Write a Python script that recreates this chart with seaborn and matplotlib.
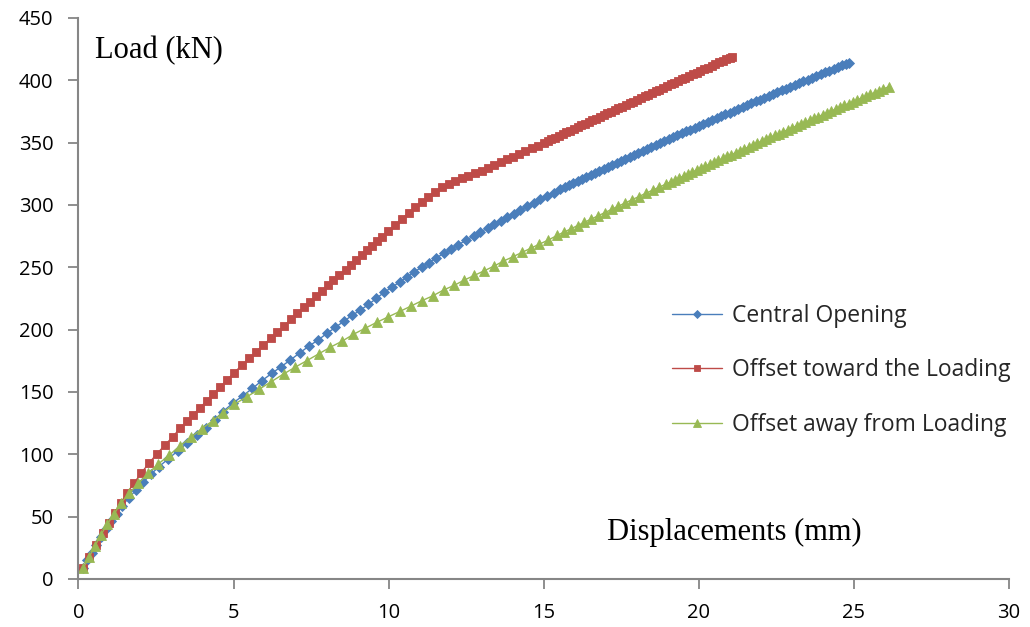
import matplotlib
matplotlib.use("Agg")
import matplotlib.pyplot as plt
import seaborn as sns
import pandas as pd

# Central Opening (blue diamonds)
central_x = [0.15, 0.29, 0.44, 0.58, 0.73, 0.88, 1.05, 1.24, 1.41, 1.62, 1.86, 2.09, 2.33, 2.60, 2.90,
             3.20, 3.50, 3.81, 4.11, 4.40, 4.65, 4.97, 5.30, 5.61, 5.91, 6.23, 6.53, 6.83, 7.14, 7.43,
             7.72, 8.01, 8.28, 8.55, 8.82, 9.09, 9.35, 9.60, 9.85, 10.10, 10.35, 10.59, 10.82, 11.06,
             11.30, 11.53, 11.77, 12.01, 12.25, 12.49, 12.74, 12.95, 13.19, 13.40, 13.62, 13.83, 14.03,
             14.24, 14.46, 14.67, 14.89, 15.10, 15.32, 15.53, 15.67, 15.81, 15.95, 16.09, 16.23, 16.37,
             16.51, 16.65, 16.79, 16.93, 17.07, 17.21, 17.35, 17.49, 17.63, 17.77, 17.91, 18.05, 18.19,
             18.33, 18.47, 18.61, 18.75, 18.89, 19.03, 19.17, 19.31, 19.45, 19.59, 19.73, 19.87, 20.01,
             20.15, 20.29, 20.43, 20.57, 20.71, 20.85, 20.99, 21.13, 21.27, 21.41, 21.55, 21.69, 21.83,
             21.97, 22.11, 22.25, 22.39, 22.53, 22.67, 22.81, 22.95, 23.09, 23.23, 23.37, 23.51, 23.65,
             23.79, 23.93, 24.07, 24.21, 24.35, 24.49, 24.63, 24.73, 24.83]
central_y = [8.6, 14.9, 21.2, 27.4, 33.7, 40.0, 46.3, 52.5, 58.8, 65.1, 71.4, 77.6, 83.9, 90.2, 96.5,
             102.7, 109.0, 115.3, 121.5, 127.8, 134.1, 140.9, 147.0, 152.9, 159.0, 164.9, 170.3, 175.6,
             181.5, 186.8, 191.6, 197.0, 201.8, 206.6, 211.4, 215.7, 220.2, 225.0, 229.8, 234.0, 238.0,
             242.2, 246.2, 250.0, 253.7, 257.5, 261.1, 264.6, 268.1, 271.7, 275.1, 278.2, 281.5, 284.5,
             287.4, 290.3, 293.1, 295.9, 298.8, 301.7, 304.6, 307.2, 309.9, 312.5, 314.2, 315.9, 317.5,
             319.2, 320.9, 322.5, 324.2, 325.8, 327.5, 329.1, 330.8, 332.4, 334.0, 335.6, 337.2, 338.8,
             340.4, 342.0, 343.6, 345.1, 346.7, 348.2, 349.8, 351.3, 352.9, 354.4, 355.9, 357.5, 359.0,
             360.5, 362.0, 363.6, 365.1, 366.6, 368.1, 369.6, 371.1, 372.6, 374.1, 375.6, 377.1, 378.6,
             380.1, 381.6, 383.1, 384.6, 386.0, 387.5, 389.0, 390.5, 391.9, 393.4, 394.8, 396.3, 397.7,
             399.2, 400.6, 402.1, 403.5, 405.0, 406.4, 407.8, 409.3, 410.7, 412.1, 413.2, 414.2]

# Offset toward the Loading (red squares)
toward_x = [0.15, 0.35, 0.56, 0.78, 0.99, 1.17, 1.36, 1.57, 1.80, 2.03, 2.27, 2.52, 2.78, 3.04, 3.28,
            3.49, 3.70, 3.92, 4.13, 4.34, 4.56, 4.78, 5.02, 5.26, 5.50, 5.73, 5.96, 6.20, 6.41, 6.63,
            6.85, 7.06, 7.27, 7.47, 7.66, 7.85, 8.03, 8.22, 8.41, 8.62, 8.78, 8.95, 9.14, 9.30, 9.46,
            9.62, 9.78, 9.99, 10.21, 10.43, 10.64, 10.85, 11.07, 11.28, 11.50, 11.72, 11.93, 12.15,
            12.36, 12.57, 12.79, 13.01, 13.21, 13.41, 13.61, 13.81, 14.01, 14.21, 14.41, 14.61, 14.81,
            15.01, 15.13, 15.25, 15.37, 15.49, 15.61, 15.73, 15.85, 15.97, 16.09, 16.21, 16.33, 16.45,
            16.57, 16.69, 16.81, 16.93, 17.05, 17.17, 17.29, 17.41, 17.53, 17.65, 17.77, 17.89, 18.01,
            18.13, 18.25, 18.37, 18.49, 18.61, 18.73, 18.85, 18.97, 19.09, 19.21, 19.33, 19.45, 19.57,
            19.69, 19.81, 19.93, 20.05, 20.17, 20.29, 20.41, 20.53, 20.65, 20.77, 20.89, 21.01, 21.07]
toward_y = [9.0, 17.9, 27.3, 36.9, 44.9, 52.9, 60.9, 69.2, 77.2, 85.2, 92.8, 100.2, 107.2, 114.1, 121.0,
            126.5, 131.9, 137.4, 142.8, 148.3, 153.7, 159.6, 165.4, 171.4, 177.0, 182.3, 187.9, 193.0,
            198.1, 203.1, 208.3, 213.1, 217.9, 222.4, 226.9, 231.2, 235.8, 239.8, 243.8, 247.8, 251.8,
            255.8, 259.8, 263.8, 267.4, 271.0, 274.4, 279.0, 283.9, 289.0, 293.7, 298.4, 302.6, 306.6,
            310.6, 314.1, 316.7, 319.1, 321.3, 323.3, 325.4, 327.5, 329.7, 332.0, 334.2, 336.5, 338.7,
            341.0, 343.2, 345.5, 347.7, 349.9, 351.3, 352.7, 354.1, 355.5, 356.9, 358.2, 359.6, 361.0,
            362.4, 363.8, 365.2, 366.5, 367.9, 369.3, 370.7, 372.1, 373.4, 374.8, 376.2, 377.6, 378.9,
            380.3, 381.7, 383.0, 384.4, 385.8, 387.1, 388.5, 389.9, 391.2, 392.6, 394.0, 395.3, 396.7,
            398.0, 399.4, 400.8, 402.1, 403.5, 404.8, 406.2, 407.5, 408.9, 410.2, 411.6, 412.9, 414.3,
            415.6, 417.0, 418.3, 419.0]

# Offset away from Loading (green triangles)
away_x = [0.15, 0.35, 0.53, 0.72, 0.93, 1.15, 1.36, 1.64, 1.93, 2.25, 2.57, 2.93, 3.27, 3.62, 3.97,
          4.33, 4.65, 5.02, 5.43, 5.82, 6.21, 6.61, 6.98, 7.36, 7.74, 8.11, 8.49, 8.86, 9.24, 9.62,
          9.99, 10.36, 10.72, 11.07, 11.43, 11.77, 12.11, 12.44, 12.76, 13.08, 13.40, 13.70, 14.01,
          14.30, 14.59, 14.86, 15.15, 15.43, 15.65, 15.87, 16.09, 16.31, 16.53, 16.75, 16.97, 17.19,
          17.41, 17.63, 17.85, 18.07, 18.29, 18.51, 18.73, 18.95, 19.09, 19.23, 19.37, 19.51, 19.65,
          19.79, 19.93, 20.07, 20.21, 20.35, 20.49, 20.63, 20.77, 20.91, 21.05, 21.19, 21.33, 21.47,
          21.61, 21.75, 21.89, 22.03, 22.17, 22.31, 22.45, 22.59, 22.73, 22.87, 23.01, 23.15, 23.29,
          23.43, 23.57, 23.71, 23.85, 23.99, 24.13, 24.27, 24.41, 24.55, 24.69, 24.83, 24.97, 25.11,
          25.25, 25.39, 25.53, 25.67, 25.81, 25.95, 26.12]
away_y = [8.6, 17.9, 26.5, 35.3, 44.1, 52.1, 60.7, 68.7, 76.7, 84.8, 92.2, 99.4, 106.7, 113.6, 120.5,
          126.9, 133.4, 140.1, 146.2, 152.1, 158.2, 164.4, 169.8, 175.1, 180.5, 185.8, 190.6, 196.2,
          201.1, 205.9, 210.3, 214.6, 218.9, 223.2, 227.2, 231.8, 235.5, 239.8, 243.5, 247.2, 251.0,
          255.0, 258.5, 262.0, 265.4, 268.6, 271.9, 275.6, 278.2, 280.8, 283.5, 286.1, 288.7, 291.3,
          293.9, 296.5, 299.1, 301.7, 304.3, 306.8, 309.4, 311.9, 314.4, 316.9, 318.5, 320.1, 321.7,
          323.2, 324.8, 326.4, 328.0, 329.5, 331.1, 332.7, 334.2, 335.8, 337.3, 338.9, 340.4, 342.0,
          343.5, 345.1, 346.6, 348.2, 349.7, 351.2, 352.8, 354.3, 355.8, 357.3, 358.9, 360.4, 361.9,
          363.4, 364.9, 366.4, 367.9, 369.4, 370.9, 372.4, 373.9, 375.4, 376.9, 378.4, 379.9, 381.4,
          382.8, 384.3, 385.8, 387.3, 388.7, 390.2, 391.7, 393.1, 394.9]

x_ticks = [0, 5, 10, 15, 20, 25, 30]
y_ticks = [0, 50, 100, 150, 200, 250, 300, 350, 400, 450]

sns.set_theme(style="white")
plt.rcParams['font.family'] = ['Open Sans', 'DejaVu Sans']

fig = plt.figure(figsize=(10.3, 6.27), dpi=100)
ax = fig.add_axes([0.0762, 0.0766, 0.9034, 0.8947])

# name, x, y, colour, marker, marker size
series = [
    ("Central Opening", central_x, central_y, "#4A7EBB", "D", 5.0),
    ("Offset toward the Loading", toward_x, toward_y, "#BE4B48", "s", 5.8),
    ("Offset away from Loading", away_x, away_y, "#98B954", "^", 6.8),
]
for name, xs, ys, col, mk, ms in series:
    df = pd.DataFrame({"disp": xs, "load": ys})
    sns.lineplot(data=df, x="disp", y="load", ax=ax, sort=False, estimator=None,
                 color=col, linewidth=1.0, marker=mk, markersize=ms,
                 markeredgecolor=col, markeredgewidth=0.6, label=name)

ax.set_xlim(0, 30)
ax.set_ylim(0, 450)
ax.set_xticks(x_ticks)
ax.set_yticks(y_ticks)
ax.set_xlabel("")
ax.set_ylabel("")

for side in ["top", "right"]:
    ax.spines[side].set_visible(False)
for side in ["left", "bottom"]:
    ax.spines[side].set_color("#868686")
    ax.spines[side].set_linewidth(1.5)

ax.tick_params(axis="both", which="major", direction="out", length=7, width=1.3,
               color="#868686", labelsize=14.5, labelcolor="black")
ax.tick_params(axis="x", pad=10, bottom=True)
ax.tick_params(axis="y", pad=11, left=True)

ax.text(0.53, 424, "Load (kN)", family=["Liberation Serif", "DejaVu Serif"],
        fontsize=22, ha="left", va="center", color="black")
ax.text(17.05, 37, "Displacements (mm)", family=["Liberation Serif", "DejaVu Serif"],
        fontsize=22, ha="left", va="center", color="black")

# legend entries are shown with small markers, as in the original
leg = ax.legend(loc="upper left", bbox_to_anchor=(672 / 1030, 1 - 304 / 627),
                bbox_transform=fig.transFigure, frameon=False, fontsize=16.5,
                handlelength=2.2, handletextpad=0.4, labelspacing=1.33,
                borderpad=0, borderaxespad=0, markerscale=0.85)

fig.savefig("out.png", dpi=100)
